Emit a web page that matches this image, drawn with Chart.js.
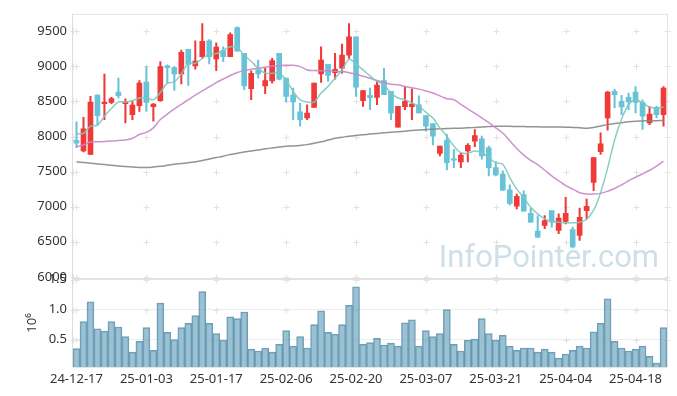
<!DOCTYPE html>
<html>
<head>
<meta charset="utf-8">
<script src="https://cdn.jsdelivr.net/npm/chart.js@4/dist/chart.umd.min.js"></script>
<style>
  html, body { margin: 0; padding: 0; background: #ffffff; }
  #wrap { width: 677px; height: 396px; position: relative; }
</style>
</head>
<body>
<div id="wrap"><canvas id="c" width="677" height="396"></canvas></div>
<script>
const dates = ['24-12-17','24-12-18','24-12-19','24-12-20','24-12-23','24-12-24','24-12-26','24-12-27','24-12-30',
  '25-01-02','25-01-03','25-01-06','25-01-07','25-01-08','25-01-09','25-01-10','25-01-13','25-01-14','25-01-15','25-01-16','25-01-17',
  '25-01-20','25-01-21','25-01-22','25-01-23','25-01-24','25-01-31',
  '25-02-03','25-02-04','25-02-05','25-02-06','25-02-07','25-02-10','25-02-11','25-02-12','25-02-13','25-02-14','25-02-17','25-02-18','25-02-19','25-02-20',
  '25-02-21','25-02-24','25-02-25','25-02-26','25-02-27','25-02-28',
  '25-03-04','25-03-05','25-03-06','25-03-07','25-03-10','25-03-11','25-03-12','25-03-13','25-03-14','25-03-17','25-03-18','25-03-19','25-03-20','25-03-21',
  '25-03-24','25-03-25','25-03-26','25-03-27','25-03-28','25-03-31',
  '25-04-01','25-04-02','25-04-03','25-04-04','25-04-07','25-04-08','25-04-09','25-04-10','25-04-11','25-04-14','25-04-15','25-04-16','25-04-17','25-04-18',
  '25-04-21','25-04-22','25-04-23','25-04-24'];

const opens  = [7945,7794,7746,8591,8469,8487,8634,8470,8313,8440,8775,8426,8511,9007,8983,8893,9243,9007,9139,9365,9106,
  9224,9139,9554,9186,8681,8950,8723,8794,9186,8832,8591,8351,8266,8417,8893,9030,8912,8974,9162,9422,
  8511,8587,8558,8799,8643,8134,8426,8426,8454,8299,8185,7761,7945,7677,7638,7794,7935,7968,7841,7558,
  7464,7242,7006,7171,6907,6652,6732,6944,6661,6789,6675,6590,6944,7346,7784,8266,8643,8502,8558,8634,8487,8195,8417,8313];
const highs  = [8209,8275,8572,8595,8889,8560,8832,8539,8501,8799,8997,8470,9068,9021,8997,9233,9243,9365,9611,9384,9337,
  9280,9479,9564,9186,8936,9092,8974,9115,9186,8832,8690,8478,8454,8761,9280,9030,9186,9318,9611,9422,
  8657,8690,8799,8974,8643,8431,8714,8681,8582,8299,8185,7864,8030,7817,7760,7900,8100,8006,7864,7643,
  7511,7313,7180,7228,6977,6874,6874,6944,6897,7133,6708,6982,7110,7700,8053,8643,8676,8587,8620,8714,8525,8431,8431,8714];
const lows   = [7841,7780,7740,8157,8242,8470,8549,8195,8242,8360,8360,8218,8500,8761,8657,8752,8728,8959,9115,9035,8941,
  9068,9139,9219,8667,8525,8832,8610,8761,8808,8492,8242,8148,8242,8417,8771,8785,8818,8903,9115,8572,
  8431,8384,8454,8596,8242,8134,8384,8242,8336,8077,7879,7723,7525,7558,7558,7640,7855,7676,7440,7440,
  7228,7025,6968,6935,6779,6557,6685,6708,6614,6756,6411,6520,6826,7228,7746,8091,8407,8313,8384,8336,8100,8171,8266,8148];
const closes = [7907,8110,8492,8299,8492,8540,8582,8474,8450,8761,8487,8464,8997,8983,8893,9200,9030,9077,9356,9139,9276,
  9139,9455,9219,8723,8903,8893,8799,9082,8818,8572,8492,8242,8336,8761,9092,8870,8959,9162,9422,8705,
  8657,8554,8733,8596,8336,8431,8502,8464,8336,8148,8006,7864,7629,7662,7737,7874,8015,7723,7558,7454,
  7237,7048,7147,6935,6779,6567,6803,6779,6836,6907,6425,6850,7006,7700,7897,8634,8596,8421,8492,8487,8289,8322,8313,8690];

const ma5  = [8040,8045,8148,8162,8289,8400,8492,8492,8511,8549,8549,8525,8629,8761,8780,8893,9044,9044,9115,9172,9182,
  9230,9280,9266,9162,9070,8974,8903,8903,8903,8808,8643,8525,8492,8492,8620,8714,8832,8950,9101,9035,
  8950,8865,8785,8738,8620,8549,8525,8478,8431,8346,8266,8124,8006,7864,7770,7761,7794,7770,7699,7628,
  7605,7416,7251,7133,6992,6897,6826,6789,6779,6770,6770,6779,6820,6950,7200,7550,7950,8250,8454,8525,8478,8421,8407,8421];
const ma20 = [7855,7880,7921,7925,7930,7935,7945,7950,7975,8030,8060,8124,8242,8320,8393,8460,8525,8590,8650,8710,8770,
  8820,8870,8912,8940,8960,8974,8990,9007,9012,9016,9016,8997,8950,8941,8938,8936,8930,8926,8910,8889,
  8860,8832,8800,8770,8745,8738,8715,8695,8676,8650,8620,8580,8540,8525,8460,8393,8330,8266,8200,8124,
  8050,7940,7830,7735,7660,7600,7520,7440,7370,7300,7250,7200,7180,7180,7190,7220,7260,7310,7370,7420,7470,7520,7580,7650];
const ma60 = [7640,7630,7620,7610,7600,7590,7580,7572,7565,7560,7558,7565,7575,7590,7605,7615,7625,7640,7660,7680,7700,
  7720,7745,7762,7780,7795,7808,7825,7838,7850,7862,7866,7874,7885,7905,7925,7950,7975,7990,8005,8016,
  8025,8035,8045,8055,8062,8070,8077,8085,8092,8100,8105,8110,8114,8118,8120,8124,8130,8135,8142,8148,
  8148,8146,8144,8142,8140,8138,8137,8136,8135,8134,8130,8125,8120,8130,8150,8170,8185,8198,8210,8218,8222,8225,8227,8228];

// volume in units of 10^6
const volumes = [0.35,0.80,1.13,0.68,0.64,0.80,0.71,0.55,0.29,0.47,0.70,0.32,1.11,0.62,0.50,0.70,0.77,0.90,1.30,0.77,0.60,0.49,0.88,0.85,
  0.96,0.34,0.31,0.36,0.29,0.42,0.65,0.39,0.55,0.36,0.75,0.98,0.62,0.59,0.75,1.07,1.38,0.42,0.45,0.52,0.41,0.44,0.39,0.78,0.83,0.39,0.65,0.55,0.60,1.00,0.42,0.31,0.49,
  0.51,0.85,0.60,0.49,0.57,0.39,0.32,0.36,0.36,0.29,0.34,0.29,0.19,0.26,0.32,0.39,0.36,0.63,0.77,1.18,0.47,0.36,0.31,0.34,0.39,0.22,0.11,0.70];

const priceTicks = [6000,6500,7000,7500,8000,8500,9000,9500];
const volumeTicks = [0.5,1.0,1.5];
const labelEvery = 10;

const UP = 'rgb(239,58,58)';
const DOWN = 'rgb(104,195,216)';
const candleColors = opens.map((o, i) => closes[i] >= o ? UP : DOWN);

const FONT = "'Noto Sans', 'DejaVu Sans', sans-serif";

const decor = {
  id: 'decor',
  beforeDatasetsDraw(chart) {
    const ctx = chart.ctx;
    const ca = chart.chartArea;
    const xs = chart.scales.x, ys = chart.scales.y, vs = chart.scales.y1;
    ctx.save();
    // watermark
    ctx.font = "31px Roboto, 'Noto Sans', sans-serif";
    ctx.fillStyle = 'rgba(198,217,228,0.85)';
    ctx.textAlign = 'right';
    ctx.textBaseline = 'alphabetic';
    ctx.fillText('InfoPointer.com', ca.right - 8, ys.bottom - 12);
    // crosses
    ctx.strokeStyle = '#e2e2e2';
    ctx.lineWidth = 1;
    const xsPix = xs.ticks.map((t, i) => xs.getPixelForTick(i));
    xsPix.push(ca.right);
    const cross = (x, y) => {
      ctx.beginPath();
      ctx.moveTo(Math.round(x) - 2.5, Math.round(y) + 0.5);
      ctx.lineTo(Math.round(x) + 3.5, Math.round(y) + 0.5);
      ctx.moveTo(Math.round(x) + 0.5, Math.round(y) - 2.5);
      ctx.lineTo(Math.round(x) + 0.5, Math.round(y) + 3.5);
      ctx.stroke();
    };
    ys.ticks.forEach((t, j) => {
      const py = ys.getPixelForTick(j);
      cross(ca.left, py);
      xsPix.forEach(px => cross(px, py));
    });
    vs.ticks.forEach((t, j) => {
      const py = vs.getPixelForTick(j);
      cross(ca.left, py);
      xsPix.forEach(px => cross(px, py));
    });
    ctx.restore();
  },
  afterDraw(chart) {
    const ctx = chart.ctx;
    const ca = chart.chartArea;
    const vs = chart.scales.y1;
    ctx.save();
    ctx.strokeStyle = '#e4e4e4';
    ctx.lineWidth = 1;
    ctx.beginPath();
    ctx.moveTo(ca.left, ca.top + 0.5); ctx.lineTo(ca.right, ca.top + 0.5);
    ctx.moveTo(ca.right + 0.5, ca.top); ctx.lineTo(ca.right + 0.5, ca.bottom);
    ctx.moveTo(ca.left, ca.bottom + 0.5); ctx.lineTo(ca.right, ca.bottom + 0.5);
    ctx.stroke();
    ctx.strokeStyle = '#dddddd';
    ctx.beginPath();
    ctx.moveTo(ca.left - 0.5, ca.top); ctx.lineTo(ca.left - 0.5, ca.bottom);
    ctx.stroke();
    ctx.strokeStyle = '#e2e2e2';
    ctx.lineWidth = 2;
    ctx.beginPath();
    ctx.moveTo(ca.left, vs.top); ctx.lineTo(ca.right, vs.top);
    ctx.stroke();
    ctx.restore();
  }
};

new Chart(document.getElementById('c'), {
  type: 'bar',
  data: {
    labels: dates,
    datasets: [
      { type: 'line', label: 'MA5', data: ma5, yAxisID: 'y', borderColor: 'rgba(125,200,188,0.9)', borderWidth: 1.5, pointRadius: 0, tension: 0.35, order: 1 },
      { type: 'line', label: 'MA20', data: ma20, yAxisID: 'y', borderColor: 'rgba(200,135,200,0.9)', borderWidth: 1.5, pointRadius: 0, tension: 0.35, order: 2 },
      { type: 'line', label: 'MA60', data: ma60, yAxisID: 'y', borderColor: 'rgba(135,135,135,0.9)', borderWidth: 1.5, pointRadius: 0, tension: 0.35, order: 3 },
      { label: 'wick', data: lows.map((l, i) => [l, highs[i]]), yAxisID: 'y', backgroundColor: candleColors, barThickness: 1.4, grouped: false, order: 5 },
      { label: 'body', data: opens.map((o, i) => [o, closes[i]]), yAxisID: 'y', backgroundColor: candleColors, barThickness: 5, minBarLength: 1.5, grouped: false, order: 4 },
      { label: 'volume', data: volumes, yAxisID: 'y1', backgroundColor: 'rgba(122,172,196,0.75)', borderColor: 'rgba(85,140,168,0.85)', borderWidth: 1, barPercentage: 1, categoryPercentage: 1, grouped: false, order: 6 }
    ]
  },
  options: {
    responsive: false,
    animation: false,
    events: [],
    layout: { padding: { top: 10, right: 10, left: 0, bottom: 0 } },
    plugins: { legend: { display: false }, tooltip: { enabled: false } },
    scales: {
      x: {
        offset: true,
        grid: { display: false, drawTicks: false },
        border: { display: false },
        ticks: { autoSkip: false, maxRotation: 0, padding: 4, color: '#333', font: { family: FONT, size: 13 } },
        afterBuildTicks: s => { s.ticks = s.ticks.filter(t => t.value % labelEvery === 0); },
        afterFit: s => { s.height = 29; }
      },
      y1: {
        position: 'left',
        stack: 'panels',
        stackWeight: 89,
        min: 0.043,
        max: 1.51,
        grid: { display: true, drawTicks: false, color: 'rgba(60,90,110,0.10)' },
        border: { display: false },
        ticks: { padding: 6, color: '#333', font: { family: FONT, size: 13 }, callback: v => Number(v).toFixed(1) },
        afterBuildTicks: s => { s.ticks = volumeTicks.map(v => ({ value: v })); },
        title: { display: true, text: '10⁶', color: '#333', font: { family: FONT, size: 13 }, padding: { top: 24, bottom: 0 } },
        afterFit: s => { s.width = 73; }
      },
      y: {
        position: 'left',
        stack: 'panels',
        stackWeight: 268,
        min: 5970,
        max: 9750,
        grid: { display: false, drawTicks: false },
        border: { display: false },
        ticks: { padding: 6, color: '#333', font: { family: FONT, size: 13 }, callback: v => String(v) },
        afterBuildTicks: s => { s.ticks = priceTicks.map(v => ({ value: v })); },
        afterFit: s => { s.width = 73; }
      }
    }
  },
  plugins: [decor]
});
</script>
</body>
</html>
